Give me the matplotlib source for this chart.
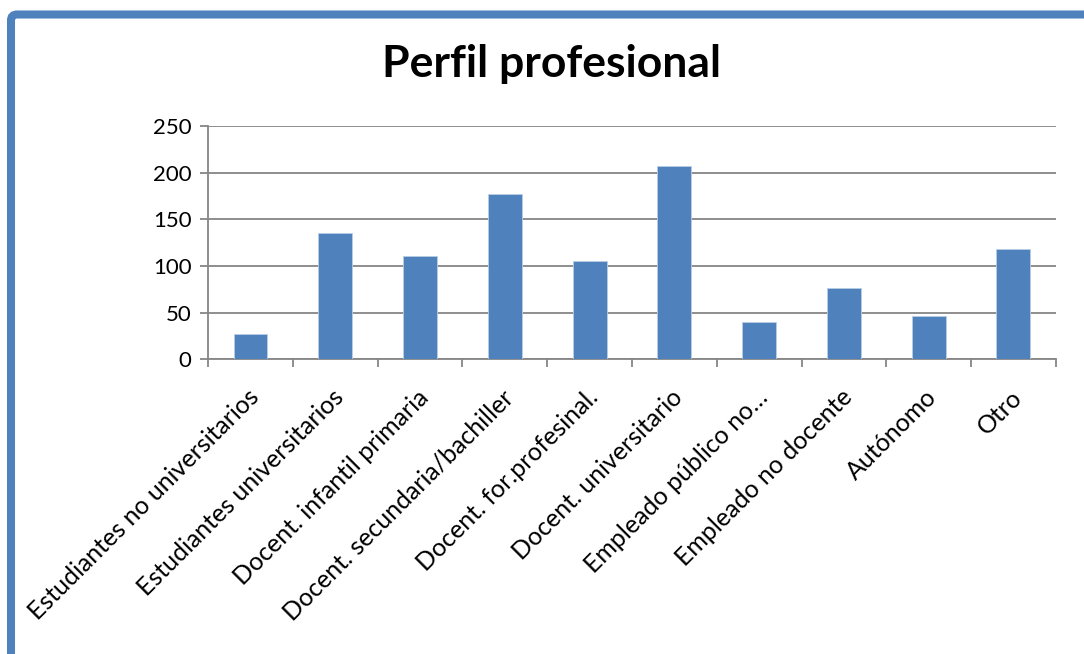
import numpy as np
import matplotlib
matplotlib.use('Agg')
import matplotlib.pyplot as plt
from matplotlib.patches import FancyBboxPatch

categories = ['Estudiantes no universitarios', 'Estudiantes universitarios',
              'Docent. infantil primaria', 'Docent. secundaria/bachiller',
              'Docent. for.profesinal.', 'Docent. universitario',
              'Empleado público no…', 'Empleado no docente', 'Autónomo', 'Otro']
values = [27, 135, 111, 177, 105, 207, 40, 76, 46, 118]
yticks = [0, 50, 100, 150, 200, 250]

plt.rcParams['font.family'] = ['Lato', 'DejaVu Sans']

fig = plt.figure(figsize=(10.84, 6.54), dpi=100)
ax = fig.add_axes([0.192, 0.4506, 0.782, 0.3567])

x = np.arange(len(categories))
ax.bar(x, values, width=0.4, color='#4f81bd', edgecolor='#b9cde5', linewidth=0.6, zorder=3)

ax.set_xlim(-0.5, len(categories) - 0.5)
ax.set_ylim(0, 250)
ax.set_yticks(yticks)
ax.set_yticklabels([str(v) for v in yticks], fontsize=16)
ax.yaxis.grid(True, color='#868686', linewidth=1.3, zorder=0)
ax.tick_params(axis='y', length=6, width=1.3, color='#868686', pad=6)

# category boundary ticks on the x axis
ax.set_xticks(np.arange(len(categories) + 1) - 0.5)
ax.set_xticklabels([])
ax.tick_params(axis='x', length=6, width=1.3, color='#868686')
for i, c in enumerate(categories):
    ax.text(i - 0.04, -28, c, rotation=45, ha='right', va='top',
            rotation_mode='anchor', fontsize=18, transform=ax.transData)

for s in ['top', 'right']:
    ax.spines[s].set_visible(False)
ax.spines['left'].set_color('#868686')
ax.spines['bottom'].set_color('#868686')
ax.spines['left'].set_linewidth(1.3)
ax.spines['bottom'].set_linewidth(1.3)

fig.text(0.509, 1 - 77 / 654, 'Perfil profesional', ha='center', va='baseline',
         fontsize=32, fontweight='bold')

# chart frame (only left and top edges visible)
frame = FancyBboxPatch((11, -50), 1200, 639.5 + 50, boxstyle='round,pad=0,rounding_size=6',
                       transform=None, fill=False, edgecolor='#4f81bd', linewidth=5.8)
fig.patches.append(frame)

fig.savefig('out.png', dpi=100)
